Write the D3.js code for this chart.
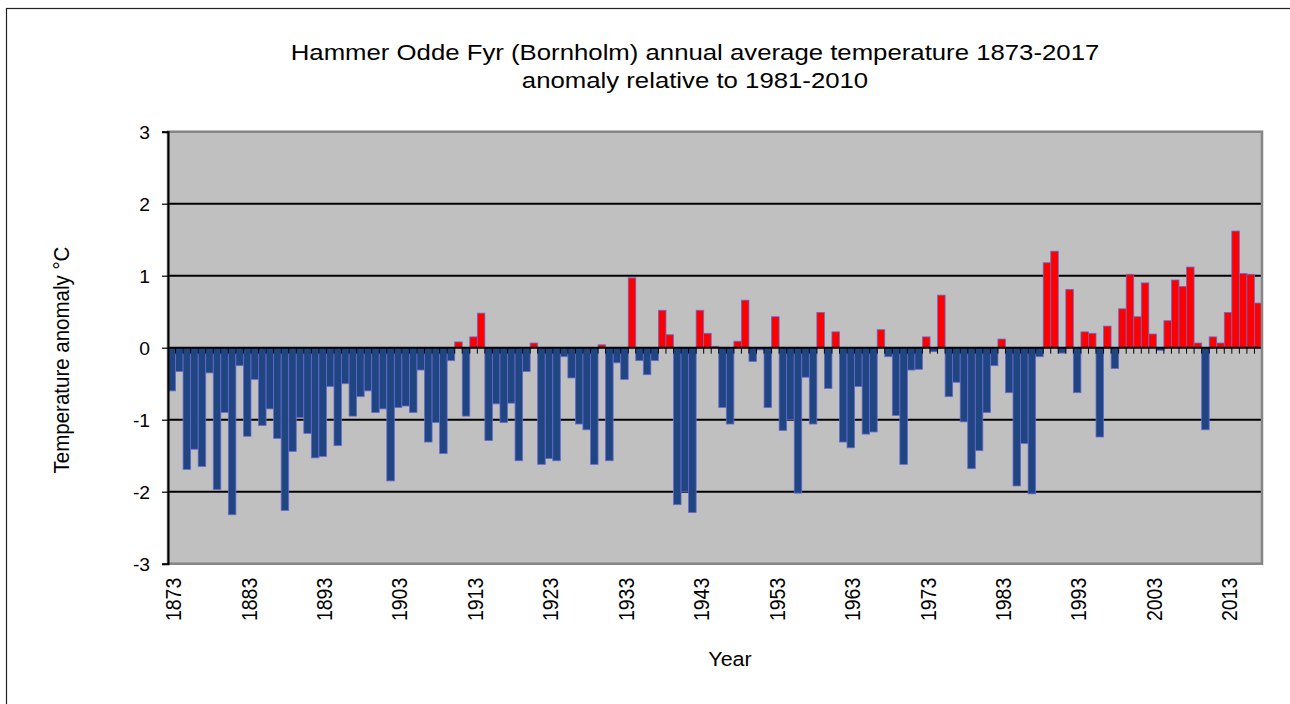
<!DOCTYPE html>
<html>
<head>
<meta charset="utf-8">
<script src="https://cdn.jsdelivr.net/npm/d3@7"></script>
<style>
  body { margin: 0; background: #fff; }
  text { font-family: "Liberation Sans", Arial, sans-serif; fill: #000; }
</style>
</head>
<body>
<div id="chart"></div>
<script>
// years 1873..2017
const years = d3.range(1873, 2018);

// annual anomaly (°C) relative to 1981-2010
const anomalies = [
  -0.60, -0.33, -1.69, -1.41, -1.65, -0.35, -1.97, -0.90, -2.32, -0.25, // 1873-1882
  -1.23, -0.44, -1.08, -0.85, -1.26, -2.26, -1.44, -0.97, -1.19, -1.53, // 1883-1892
  -1.51, -0.54, -1.36, -0.50, -0.95, -0.68, -0.60, -0.90, -0.85, -1.85, // 1893-1902
  -0.83, -0.81, -0.90, -0.31, -1.31, -1.04, -1.47, -0.18, 0.08, -0.95,  // 1903-1912
  0.15, 0.48, -1.29, -0.78, -1.04, -0.77, -1.57, -0.33, 0.065, -1.62,   // 1913-1922
  -1.54, -1.57, -0.125, -0.42, -1.06, -1.14, -1.62, 0.04, -1.57, -0.21, // 1923-1932
  -0.44, 0.97, -0.18, -0.375, -0.18, 0.52, 0.18, -2.18, -2.00, -2.29,   // 1933-1942
  0.52, 0.20, 0.02, -0.83, -1.06, 0.09, 0.66, -0.19, -0.03, -0.83,      // 1943-1952
  0.43, -1.15, -1.00, -2.02, -0.41, -1.06, 0.49, -0.565, 0.22, -1.31,   // 1953-1962
  -1.39, -0.54, -1.20, -1.17, 0.25, -0.125, -0.94, -1.62, -0.31, -0.30, // 1963-1972
  0.15, -0.055, 0.73, -0.68, -0.48, -1.03, -1.68, -1.43, -0.90, -0.25,  // 1973-1982
  0.12, -0.625, -1.92, -1.33, -2.03, -0.125, 1.18, 1.34, -0.075, 0.81,  // 1983-1992
  -0.625, 0.22, 0.20, -1.24, 0.30, -0.29, 0.54, 1.02, 0.43, 0.90,       // 1993-2002
  0.19, -0.04, 0.375, 0.94, 0.85, 1.12, 0.065, -1.14, 0.15, 0.065,      // 2003-2012
  0.49, 1.62, 1.03, 1.02, 0.62                                          // 2013-2017
];

const yTicks = [-3, -2, -1, 0, 1, 2, 3];
const xLabelYears = years.filter(d => (d - 1873) % 10 === 0);

const data = years.map((year, i) => ({ year, value: anomalies[i] }));

const width = 1290;
const height = 704;
const plot = { left: 168, right: 1262, top: 131.7, bottom: 563.7 };
const sx = 1.1; // text in the source is a bit wider than tall

const svg = d3.select("#chart")
  .append("svg")
  .attr("width", width)
  .attr("height", height);

// outer chart frame (runs off the right and bottom edges)
svg.append("rect")
  .attr("x", 6.5).attr("y", 8.5)
  .attr("width", width + 20).attr("height", height + 20)
  .attr("fill", "none")
  .attr("stroke", "#222")
  .attr("stroke-width", 1.2);

// scales
const x = d3.scaleBand()
  .domain(years)
  .range([plot.left, plot.right])
  .padding(0);

const y = d3.scaleLinear()
  .domain([-3, 3])
  .range([plot.bottom, plot.top]);

// plot background
svg.append("rect")
  .attr("x", plot.left).attr("y", plot.top)
  .attr("width", plot.right - plot.left)
  .attr("height", plot.bottom - plot.top)
  .attr("fill", "#c0c0c0");

// gridlines
svg.append("g")
  .selectAll("line")
  .data(yTicks.filter(d => d !== 0 && d !== 3 && d !== -3))
  .join("line")
  .attr("x1", plot.left).attr("x2", plot.right)
  .attr("y1", d => y(d)).attr("y2", d => y(d))
  .attr("stroke", "#000")
  .attr("stroke-width", 2);

// bars
svg.append("g")
  .selectAll("rect")
  .data(data)
  .join("rect")
  .attr("x", d => x(d.year))
  .attr("y", d => y(Math.max(0, d.value)))
  .attr("width", x.bandwidth())
  .attr("height", d => Math.abs(y(d.value) - y(0)))
  .attr("fill", d => d.value >= 0 ? "#ff0000" : "#1f4680")
  .attr("stroke", "#6868d6")
  .attr("stroke-width", 0.8);

// category axis on the zero line, ticks on bar boundaries
const zeroY = y(0);
svg.append("line")
  .attr("x1", plot.left).attr("x2", plot.right)
  .attr("y1", zeroY).attr("y2", zeroY)
  .attr("stroke", "#000")
  .attr("stroke-width", 2);

svg.append("g")
  .selectAll("line")
  .data(years.slice(1))
  .join("line")
  .attr("x1", d => x(d)).attr("x2", d => x(d))
  .attr("y1", zeroY).attr("y2", zeroY + 6)
  .attr("stroke", "#000")
  .attr("stroke-width", 1);

// plot border
svg.append("rect")
  .attr("x", plot.left).attr("y", plot.top)
  .attr("width", plot.right - plot.left)
  .attr("height", plot.bottom - plot.top)
  .attr("fill", "none")
  .attr("stroke", "#858585")
  .attr("stroke-width", 2.5);

// value axis
const yAxis = svg.append("g")
  .attr("transform", `translate(${plot.left},0)`)
  .call(d3.axisLeft(y).tickValues(yTicks).tickSize(6).tickFormat(d => String(d)));

yAxis.select(".domain").attr("stroke", "#000").attr("stroke-width", 2);
yAxis.selectAll(".tick line").attr("stroke", "#000").attr("stroke-width", 1.2);
yAxis.selectAll(".tick text")
  .attr("x", null)
  .attr("dy", null)
  .attr("font-size", 17.5)
  .attr("font-family", null)
  .attr("dominant-baseline", "central")
  .attr("transform", `translate(-18,1) scale(${sx},1)`);

// year labels, rotated
svg.append("g")
  .selectAll("text")
  .data(xLabelYears)
  .join("text")
  .attr("transform", d => `translate(${x(d) + x.bandwidth() / 2 + 1.5},${plot.bottom + 14}) scale(${sx},1) rotate(-90)`)
  .attr("text-anchor", "end")
  .attr("dominant-baseline", "central")
  .attr("font-size", 19.5)
  .text(d => d);

// titles
const title = svg.append("g")
  .attr("transform", `translate(695,0) scale(1.12,1)`);
title.append("text")
  .attr("y", 60)
  .attr("text-anchor", "middle")
  .attr("font-size", 23)
  .text("Hammer Odde Fyr (Bornholm) annual average temperature 1873-2017");
title.append("text")
  .attr("y", 88)
  .attr("text-anchor", "middle")
  .attr("font-size", 23)
  .text("anomaly relative to 1981-2010");

svg.append("text")
  .attr("transform", `translate(730,666) scale(${sx},1)`)
  .attr("text-anchor", "middle")
  .attr("font-size", 19.5)
  .text("Year");

svg.append("text")
  .attr("transform", `translate(62,360) scale(${sx},1) rotate(-90)`)
  .attr("text-anchor", "middle")
  .attr("dominant-baseline", "central")
  .attr("font-size", 20.5)
  .text("Temperature anomaly °C");
</script>
</body>
</html>
